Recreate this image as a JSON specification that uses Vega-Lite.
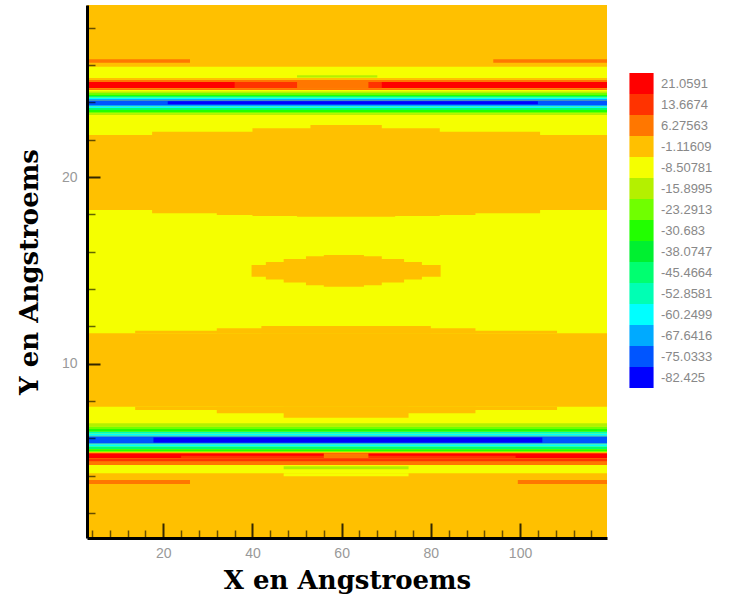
{
  "$schema": "https://vega.github.io/schema/vega-lite/v6.json",
  "autosize": "none",
  "width": 520,
  "height": 533,
  "padding": {"left": 87, "top": 5, "right": 124, "bottom": 62},
  "background": "white",
  "config": {"view": {"stroke": null}},
  "data": {"values": [
    {"x": 2.9, "x2": 119.5, "y": 0.65, "y2": 29.22, "c": "-1.11609"},
    {"x": 2.9, "x2": 26, "y": 26.125, "y2": 26.307, "c": "6.27563"},
    {"x": 94, "x2": 119.5, "y": 26.125, "y2": 26.307, "c": "6.27563"},
    {"x": 2.9, "x2": 119.5, "y": 22.25, "y2": 25.91, "c": "-8.50781"},
    {"x": 17.5, "x2": 104.5, "y": 22.25, "y2": 22.43, "c": "-1.11609"},
    {"x": 40, "x2": 82, "y": 22.25, "y2": 22.61, "c": "-1.11609"},
    {"x": 53, "x2": 69, "y": 22.25, "y2": 22.79, "c": "-1.11609"},
    {"x": 50, "x2": 68, "y": 25.34, "y2": 25.46, "c": "-15.8995"},
    {"x": 2.9, "x2": 119.5, "y": 25.198, "y2": 25.31, "c": "-1.11609"},
    {"x": 2.9, "x2": 119.5, "y": 25.091, "y2": 25.198, "c": "6.27563"},
    {"x": 2.9, "x2": 119.5, "y": 24.753, "y2": 25.091, "c": "21.0591"},
    {"x": 36, "x2": 69, "y": 24.753, "y2": 25.091, "c": "13.6674"},
    {"x": 50, "x2": 66, "y": 24.753, "y2": 25.15, "c": "6.27563"},
    {"x": 2.9, "x2": 119.5, "y": 24.662, "y2": 24.753, "c": "6.27563"},
    {"x": 2.9, "x2": 119.5, "y": 24.502, "y2": 24.582, "c": "-15.8995"},
    {"x": 2.9, "x2": 119.5, "y": 24.421, "y2": 24.502, "c": "-23.2913"},
    {"x": 2.9, "x2": 119.5, "y": 24.341, "y2": 24.421, "c": "-30.683"},
    {"x": 2.9, "x2": 119.5, "y": 24.26, "y2": 24.341, "c": "-45.4664"},
    {"x": 2.9, "x2": 119.5, "y": 24.18, "y2": 24.26, "c": "-60.2499"},
    {"x": 2.9, "x2": 119.5, "y": 24.1, "y2": 24.18, "c": "-67.6416"},
    {"x": 2.9, "x2": 119.5, "y": 23.859, "y2": 24.1, "c": "-75.0333"},
    {"x": 21, "x2": 104, "y": 23.9, "y2": 24.06, "c": "-82.425"},
    {"x": 2.9, "x2": 119.5, "y": 23.778, "y2": 23.859, "c": "-67.6416"},
    {"x": 2.9, "x2": 119.5, "y": 23.698, "y2": 23.778, "c": "-60.2499"},
    {"x": 2.9, "x2": 119.5, "y": 23.591, "y2": 23.698, "c": "-45.4664"},
    {"x": 2.9, "x2": 119.5, "y": 23.483, "y2": 23.591, "c": "-30.683"},
    {"x": 2.9, "x2": 119.5, "y": 23.403, "y2": 23.483, "c": "-23.2913"},
    {"x": 2.9, "x2": 119.5, "y": 23.323, "y2": 23.403, "c": "-15.8995"},
    {"x": 2.9, "x2": 119.5, "y": 11.62, "y2": 18.23, "c": "-8.50781"},
    {"x": 17.5, "x2": 104.5, "y": 18.06, "y2": 18.23, "c": "-1.11609"},
    {"x": 32, "x2": 90, "y": 17.97, "y2": 18.23, "c": "-1.11609"},
    {"x": 40, "x2": 82, "y": 17.91, "y2": 18.23, "c": "-1.11609"},
    {"x": 50, "x2": 72, "y": 17.87, "y2": 18.23, "c": "-1.11609"},
    {"x": 13.7, "x2": 108.3, "y": 11.62, "y2": 11.76, "c": "-1.11609"},
    {"x": 32, "x2": 90, "y": 11.62, "y2": 11.89, "c": "-1.11609"},
    {"x": 42, "x2": 80, "y": 11.62, "y2": 12.01, "c": "-1.11609"},
    {"x": 39.8, "x2": 82.2, "y": 14.66, "y2": 15.28, "c": "-1.11609"},
    {"x": 43, "x2": 78, "y": 14.5, "y2": 15.45, "c": "-1.11609"},
    {"x": 47, "x2": 74, "y": 14.35, "y2": 15.6, "c": "-1.11609"},
    {"x": 52, "x2": 69, "y": 14.2, "y2": 15.75, "c": "-1.11609"},
    {"x": 56, "x2": 65, "y": 14.12, "y2": 15.82, "c": "-1.11609"},
    {"x": 2.9, "x2": 119.5, "y": 4.121, "y2": 7.69, "c": "-8.50781"},
    {"x": 47, "x2": 75, "y": 3.96, "y2": 4.121, "c": "-8.50781"},
    {"x": 13.7, "x2": 108.3, "y": 7.51, "y2": 7.69, "c": "-1.11609"},
    {"x": 32, "x2": 90, "y": 7.34, "y2": 7.69, "c": "-1.11609"},
    {"x": 47, "x2": 75, "y": 7.1, "y2": 7.69, "c": "-1.11609"},
    {"x": 2.9, "x2": 119.5, "y": 6.619, "y2": 6.801, "c": "-15.8995"},
    {"x": 2.9, "x2": 119.5, "y": 6.49, "y2": 6.619, "c": "-23.2913"},
    {"x": 2.9, "x2": 119.5, "y": 6.351, "y2": 6.49, "c": "-30.683"},
    {"x": 2.9, "x2": 119.5, "y": 6.25, "y2": 6.351, "c": "-52.8581"},
    {"x": 2.9, "x2": 119.5, "y": 6.137, "y2": 6.25, "c": "-60.2499"},
    {"x": 2.9, "x2": 119.5, "y": 6.083, "y2": 6.137, "c": "-67.6416"},
    {"x": 2.9, "x2": 119.5, "y": 5.729, "y2": 6.083, "c": "-75.0333"},
    {"x": 17.8, "x2": 105, "y": 5.77, "y2": 6.04, "c": "-82.425"},
    {"x": 2.9, "x2": 119.5, "y": 5.675, "y2": 5.729, "c": "-67.6416"},
    {"x": 2.9, "x2": 119.5, "y": 5.547, "y2": 5.675, "c": "-60.2499"},
    {"x": 2.9, "x2": 119.5, "y": 5.41, "y2": 5.547, "c": "-45.4664"},
    {"x": 2.9, "x2": 119.5, "y": 5.279, "y2": 5.41, "c": "-30.683"},
    {"x": 2.9, "x2": 119.5, "y": 5.236, "y2": 5.279, "c": "-8.50781"},
    {"x": 2.9, "x2": 119.5, "y": 5.193, "y2": 5.236, "c": "6.27563"},
    {"x": 2.9, "x2": 119.5, "y": 4.925, "y2": 5.193, "c": "21.0591"},
    {"x": 24, "x2": 99, "y": 4.925, "y2": 5.06, "c": "13.6674"},
    {"x": 56, "x2": 66, "y": 4.925, "y2": 5.193, "c": "6.27563"},
    {"x": 2.9, "x2": 119.5, "y": 4.743, "y2": 4.925, "c": "13.6674"},
    {"x": 2.9, "x2": 119.5, "y": 4.566, "y2": 4.743, "c": "6.27563"},
    {"x": 47, "x2": 75, "y": 4.33, "y2": 4.49, "c": "-15.8995"},
    {"x": 2.9, "x2": 26, "y": 3.548, "y2": 3.762, "c": "6.27563"},
    {"x": 99.5, "x2": 119.5, "y": 3.548, "y2": 3.762, "c": "6.27563"}
  ]},
  "layer": [
    {
      "mark": {"type": "rect", "clip": true},
      "encoding": {
        "x": {
          "field": "x", "type": "quantitative",
          "scale": {"domain": [2.9, 119.5], "nice": false, "zero": false},
          "axis": {
            "orient": "bottom", "zindex": 1,
            "values": [20, 40, 60, 80, 100],
            "tickSize": -15, "tickWidth": 2, "tickColor": "#000", "tickOpacity": 0.8,
            "domainColor": "#000", "domainWidth": 3,
            "grid": false,
            "labelColor": "#999", "labelFontSize": 14, "labelFont": "Liberation Sans", "labelPadding": 23,
            "title": "X en Angstroems", "titleFont": "DejaVu Serif", "titleFontSize": 26, "titleFontWeight": "bold", "titleColor": "#000", "titlePadding": 7
          }
        },
        "x2": {"field": "x2"},
        "y": {
          "field": "y", "type": "quantitative",
          "scale": {"domain": [0.65, 29.22], "nice": false, "zero": false},
          "axis": {
            "orient": "left", "zindex": 1,
            "values": [10, 20],
            "tickSize": -13, "tickWidth": 2, "tickColor": "#000", "tickOpacity": 0.8,
            "domainColor": "#000", "domainWidth": 3,
            "grid": false,
            "labelColor": "#999", "labelFontSize": 14, "labelFont": "Liberation Sans", "labelPadding": 23,
            "title": "Y en Angstroems", "titleFont": "DejaVu Serif", "titleFontSize": 26, "titleFontWeight": "bold", "titleColor": "#000", "titlePadding": 19
          }
        },
        "y2": {"field": "y2"},
        "color": {
          "field": "c", "type": "nominal",
          "scale": {
            "domain": ["21.0591", "13.6674", "6.27563", "-1.11609", "-8.50781", "-15.8995", "-23.2913", "-30.683", "-38.0747", "-45.4664", "-52.8581", "-60.2499", "-67.6416", "-75.0333", "-82.425"],
            "range": ["#FF0000", "#FF3300", "#FF7700", "#FFC000", "#F5FF00", "#B4F000", "#70FF00", "#22FF00", "#00F030", "#00FF70", "#00FFB4", "#00FFFF", "#00AAFF", "#0055FF", "#0000FF"]
          },
          "legend": {
            "orient": "none", "legendX": 544, "legendY": 68,
            "title": null,
            "symbolType": "M-1.15,-1H1.15V1H-1.15Z",
            "symbolSize": 441, "symbolStrokeWidth": 0, "symbolOpacity": 1,
            "rowPadding": 0,
            "labelFontSize": 13, "labelFont": "Liberation Sans", "labelColor": "#888", "labelOffset": 9,
            "values": ["21.0591", "13.6674", "6.27563", "-1.11609", "-8.50781", "-15.8995", "-23.2913", "-30.683", "-38.0747", "-45.4664", "-52.8581", "-60.2499", "-67.6416", "-75.0333", "-82.425"]
          }
        }
      }
    },
    {
      "mark": {"type": "point", "opacity": 0},
      "encoding": {
        "x": {
          "field": "x", "type": "quantitative",
          "scale": {"domain": [2.9, 119.5], "nice": false, "zero": false},
          "axis": {
            "orient": "bottom", "zindex": 1,
            "values": [4, 8, 12, 16, 24, 28, 32, 36, 44, 48, 52, 56, 64, 68, 72, 76, 84, 88, 92, 96, 104, 108, 112, 116],
            "tickSize": -8, "tickWidth": 1.5, "tickColor": "#000", "tickOpacity": 0.6,
            "domain": false, "labels": false, "grid": false, "title": null
          }
        },
        "y": {
          "field": "y", "type": "quantitative",
          "scale": {"domain": [0.65, 29.22], "nice": false, "zero": false},
          "axis": {
            "orient": "left", "zindex": 1,
            "values": [2, 4, 6, 8, 12, 14, 16, 18, 22, 24, 26, 28],
            "tickSize": -8, "tickWidth": 1.5, "tickColor": "#000", "tickOpacity": 0.6,
            "domain": false, "labels": false, "grid": false, "title": null
          }
        }
      }
    }
  ],
  "resolve": {"axis": {"x": "independent", "y": "independent"}}
}
